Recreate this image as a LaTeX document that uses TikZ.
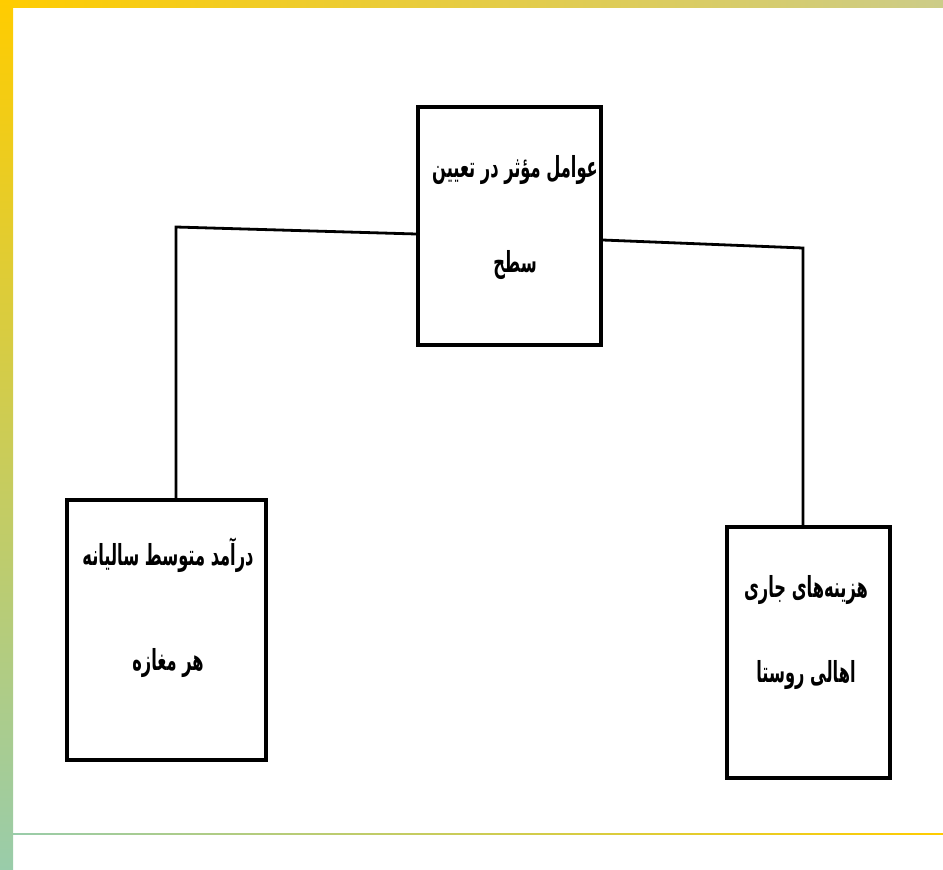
\documentclass[tikz,border=0pt]{standalone}
\usepackage{fontspec}
\newfontfamily\persianfont[Script=Arabic,FakeStretch=0.56]{DejaVu Sans}
\TeXXeTstate=1
\usetikzlibrary{positioning}
\definecolor{frameyellow}{HTML}{FFCC00}
\definecolor{framegreen}{HTML}{99CCAA}
\definecolor{frameolive}{HTML}{CCCC88}
\tikzset{
 factorbox/.style={draw,line width=3.4pt,inner sep=0pt},
 factortext/.style={font=\persianfont\bfseries\fontsize{29}{34}\selectfont,align=center,inner sep=0pt},
 link/.style={line width=2.8pt}
}

\begin{document}
\begin{tikzpicture}[x=1pt,y=-1pt]
\useasboundingbox (0,0) rectangle (943,870);
% page frame
\fill[left color=frameyellow,right color=frameolive] (0,0) rectangle (943,7);
\fill[top color=frameyellow,bottom color=framegreen] (0,0) rectangle (13,870);
\fill[left color=framegreen,right color=frameyellow] (13,833.5) rectangle (943,834.5);
% boxes
\node[factorbox,minimum width=183pt,minimum height=238pt] (main) at (509.5,226) {};
\node[factorbox,minimum width=199pt,minimum height=260pt] (income) at (166.5,630) {};
\node[factorbox,minimum width=163pt,minimum height=251pt] (cost) at (808.5,652.5) {};
\node[factortext] (maintext) at (515,217.5)
 {\beginR عوامل مؤثر در تعیین\endR\\[61pt]\beginR سطح\endR};
\node[factortext] (incometext) at (168,607.5)
 {\beginR درآمد متوسط سالیانه\endR\\[71pt]\beginR هر مغازه\endR};
\node[factortext] (costtext) at (806,632.5)
 {\beginR هزینه‌های جاری\endR\\[51pt]\beginR اهالی روستا\endR};
% connectors
\coordinate (lcorner) at (176,227);
\coordinate (rcorner) at (803,248);
\draw[link] ([yshift=-8pt]main.west) -- (lcorner) -- (lcorner |- income.north);
\draw[link] ([yshift=-14pt]main.east) -- (rcorner) -- (rcorner |- cost.north);
\end{tikzpicture}
\end{document}
